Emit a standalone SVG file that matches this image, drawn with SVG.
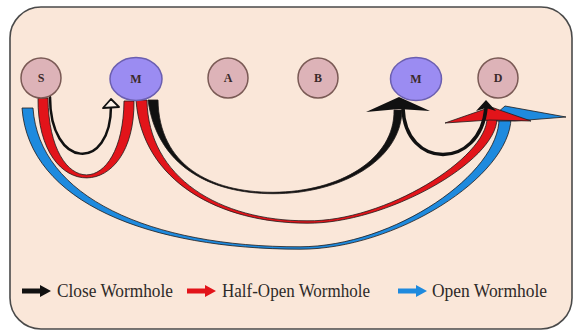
<svg xmlns="http://www.w3.org/2000/svg" width="575" height="335" viewBox="0 0 575 335">
  <style>
    .frame { fill: #fae7d9; stroke: #4a4a4a; stroke-width: 1.6; }
    .plain { fill: #ddb3b8; stroke: #7a5a55; stroke-width: 1.5; }
    .mal { fill: #9b8cf2; stroke: #6b5fb0; stroke-width: 1.5; }
    .nlabel { font-family: "Liberation Serif", "Times New Roman", serif; font-weight: bold; font-size: 12px; fill: #3a2a2a; text-anchor: middle; }
    .legend { font-family: "Liberation Serif", "Times New Roman", serif; font-size: 19px; fill: #2e2a28; }
    .band { stroke: #1e1a1a; stroke-width: 0.8; stroke-linejoin: round; }
    .red { fill: #e2141a; }
    .blue { fill: #1e8ade; }
    .black { fill: #111; }
    .thin { fill: none; stroke: #111; stroke-linecap: round; }
  </style>

  <!-- panel -->
  <rect class="frame" x="10" y="7" width="562" height="322" rx="31" ry="31"/>

  <g id="connectors">
    <!-- open wormhole: S side to D -->
    <path class="band blue" d="M22,108 C29,203 150,249 300,249.2 C395,249.5 510,177 511,118 L499,118 C500,173 395,246.5 300,246.8 C150,247 39,197 33,108 Z"/>
    <polygon class="band blue" points="488,121 505,106 566,117 515,121"/>

    <!-- half-open wormhole: S to M -->
    <path class="band red" d="M38,98 C37,204 135,204 134,101 L124,101 C123,200 49,200 48,98 Z"/>

    <!-- half-open wormhole: M to D -->
    <path class="band red" d="M136,100 C142,182 220,223 307,223.2 C385,224 497,162 497,118 L487,118 C487,158 385,222 307,220.8 C220,221 148,178 147,100 Z"/>
    <polygon class="band red" points="445,123 491,107 531,121 490,120"/>

    <!-- close wormhole: M to M -->
    <path class="band black" d="M148,100 C157,166 210,193.6 273,193.7 C340,194 401,161 402,110 L394,110 C395,159 340,192 273,192.3 C210,192.4 159,165 158,100 Z"/>
    <polygon class="black" points="366,112 399,97 430,111 399,109"/>

    <!-- close wormhole: S to M -->
    <path class="thin" stroke-width="2.5" d="M50,97 C50,170 111,172 111,106"/>
    <polygon points="111,99 103,108 119,107" fill="#fdf3ea" stroke="#111" stroke-width="1.8" stroke-linejoin="round"/>

    <!-- close wormhole: M to D -->
    <path class="thin" stroke-width="3.5" d="M403,108 C405,170 480,170 486,108"/>
    <polygon class="black" points="476,111 486,100 496,111 486,108"/>
  </g>

  <g id="node-S">
    <circle class="plain" cx="41" cy="78" r="20"/>
    <text class="nlabel" x="41" y="82">S</text>
  </g>
  <g id="node-M1">
    <ellipse class="mal" cx="136" cy="79" rx="26" ry="21.5"/>
    <text class="nlabel" x="136" y="83">M</text>
  </g>
  <g id="node-A">
    <circle class="plain" cx="228" cy="78" r="20"/>
    <text class="nlabel" x="228" y="82">A</text>
  </g>
  <g id="node-B">
    <circle class="plain" cx="318" cy="78" r="20"/>
    <text class="nlabel" x="318" y="82">B</text>
  </g>
  <g id="node-M2">
    <ellipse class="mal" cx="416" cy="79" rx="25.5" ry="21.5"/>
    <text class="nlabel" x="416" y="83">M</text>
  </g>
  <g id="node-D">
    <circle class="plain" cx="498" cy="78" r="20"/>
    <text class="nlabel" x="498" y="82">D</text>
  </g>

  <g id="legend">
    <path fill="#111" d="M22,288.5 L40,288.5 L40,285 L51,291 L40,297 L40,293.5 L22,293.5 Z"/>
    <text class="legend" x="57" y="297" textLength="116" lengthAdjust="spacingAndGlyphs">Close Wormhole</text>
    <path fill="#e2141a" d="M187,288.5 L205,288.5 L205,285 L216,291 L205,297 L205,293.5 L187,293.5 Z"/>
    <text class="legend" x="222" y="297" textLength="148" lengthAdjust="spacingAndGlyphs">Half-Open Wormhole</text>
    <path fill="#1e8ade" d="M398,288.5 L416,288.5 L416,285 L427,291 L416,297 L416,293.5 L398,293.5 Z"/>
    <text class="legend" x="432" y="297" textLength="115" lengthAdjust="spacingAndGlyphs">Open Wormhole</text>
  </g>
</svg>
